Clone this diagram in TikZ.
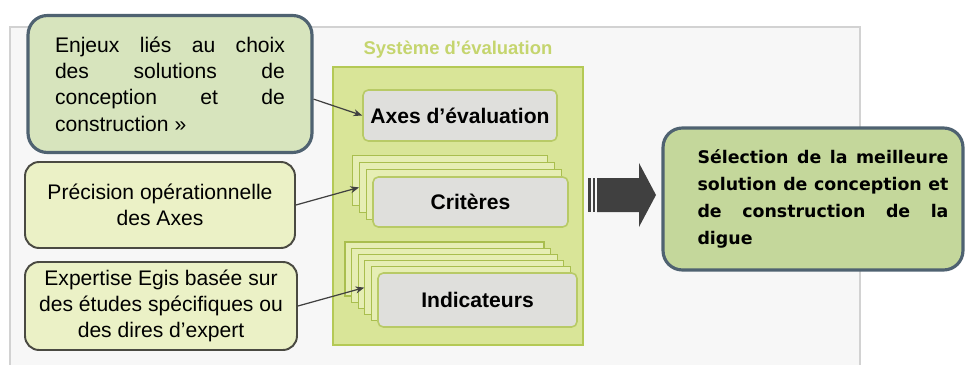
\documentclass[tikz,border=0pt]{standalone}
\usepackage{fontspec}
\setmainfont{Liberation Sans}
\newfontfamily\verdfont{DejaVu Sans}
\usepackage{tikz}
\usetikzlibrary{arrows.meta, positioning, shapes.misc}
\definecolor{enjfill}{HTML}{D7E4BD}
\definecolor{enjdraw}{HTML}{4F6271}
\definecolor{notefill}{HTML}{EBF1C6}
\definecolor{notedraw}{HTML}{4A4A42}
\definecolor{sysfill}{HTML}{D9E598}
\definecolor{sysdraw}{HTML}{B4C955}
\definecolor{systitle}{HTML}{C5D56E}
\definecolor{cardfill}{HTML}{E6EEB4}
\definecolor{carddraw}{HTML}{A9BE4E}
\definecolor{frontfill}{HTML}{DFDFDC}
\definecolor{frontdraw}{HTML}{B8CA66}
\definecolor{selfill}{HTML}{C4D79B}
\definecolor{arrowgray}{HTML}{404040}
\definecolor{panelfill}{HTML}{F7F7F7}
\definecolor{paneldraw}{HTML}{D2D2D2}
\newcommand{\jl}[2]{\makebox[#1][s]{#2}}

\begin{document}
\begin{tikzpicture}[
  x = 0.02cm, y = -0.02cm,
  every node/.style = {font=\fontsize{12}{15}\selectfont},
  notebox/.style  = {draw=notedraw, fill=notefill, line width=1.1pt,
                     rounded corners=8pt, align=center, inner sep=0pt},
  enjbox/.style   = {notebox, draw=enjdraw, fill=enjfill, line width=1.8pt,
                     rounded corners=11pt, align=left},
  selbox/.style   = {enjbox, fill=selfill, draw=enjdraw,
                     font=\verdfont\bfseries\fontsize{9.9}{15.3}\selectfont},
  card/.style     = {chamfered rectangle, chamfered rectangle corners=north east,
                     chamfered rectangle xsep=5pt, draw=carddraw, fill=cardfill,
                     line width=0.6pt, inner sep=0pt},
  frontcard/.style= {draw=frontdraw, fill=frontfill, line width=0.9pt,
                     rounded corners=3pt, font=\bfseries\fontsize{12}{15}\selectfont,
                     inner sep=0pt},
  link/.style     = {-{Stealth[length=5pt,width=4pt]}, arrowgray, line width=0.7pt}
]
\useasboundingbox (0,0) rectangle (965,365);

% Background panel
\draw[fill=panelfill, draw=paneldraw, line width=0.6pt] (10,27) rectangle (860,380);

% Left notes
\node[enjbox, minimum width=5.68cm, minimum height=2.74cm] (enjeux) at (170,84)
  {\jl{4.6cm}{Enjeux\hfill liés\hfill au\hfill choix}\\
   \jl{4.6cm}{des\hfill solutions\hfill de}\\
   \jl{4.6cm}{conception\hfill et\hfill de}\\ construction »};
\node[notebox, minimum width=5.4cm, minimum height=1.72cm] (precision) at (160,205)
  {Précision opérationnelle\\des Axes};
\node[notebox, minimum width=5.44cm, minimum height=1.76cm] (expertise) at (161,306)
  {Expertise Egis basée sur\\des études spécifiques ou\\des dires d'expert};

% Evaluation system
\node[draw=sysdraw, fill=sysfill, line width=1.1pt, minimum width=5.0cm,
      minimum height=5.56cm] (systeme) at (458,206) {};
\node[above=1pt of systeme, text=systitle,
      font=\bfseries\fontsize{10.5}{12}\selectfont] (systitle) {Système d'évaluation};

\node[frontcard, minimum width=3.88cm, minimum height=1.02cm] (axes) at (460,115.5)
  {Axes d'évaluation};

\foreach \k in {3,2,1}
  \node[card, minimum width=3.9cm, minimum height=1.0cm]
    (crit\k) at (470.5-6.7*\k,202-7.3*\k) {};
\node[frontcard, minimum width=3.9cm, minimum height=1.0cm] (criteres) at (470.5,202)
  {Critères};

\foreach \k in {5,4,3,2,1}
  \node[card, minimum width=3.98cm, minimum height=1.08cm]
    (ind\k) at (477.5-6.6*\k,300-6.2*\k) {};
\node[frontcard, minimum width=3.98cm, minimum height=1.08cm] (indicateurs) at (477.5,300)
  {Indicateurs};

% Links
\draw[link] (enjeux.-6) -- (axes.west);
\draw[link] (precision.east) -- (crit2.west);
\draw[link] (expertise.east) -- (ind2.west);

% Result
\node[selbox, text width=5.42cm, minimum width=6.0cm, minimum height=2.84cm] (selection)
  at (813,199)
  {\hspace*{0.4cm}\jl{5.02cm}{Sélection\hfill de\hfill la\hfill meilleure}\\
   \hspace*{0.4cm}\jl{5.02cm}{solution\hfill de\hfill conception\hfill et}\\
   \hspace*{0.4cm}\jl{5.02cm}{de\hfill construction\hfill de\hfill la}\\
   \hspace*{0.4cm}digue};

% Striped arrow
\fill[arrowgray] (588,178) rectangle (590.5,212);
\fill[arrowgray] (592.5,178) rectangle (595,212);
\fill[arrowgray] (597,178) -- (639,178) -- (639,163) -- (656,195)
  -- (639,227) -- (639,212) -- (597,212) -- cycle;

\end{tikzpicture}
\end{document}
